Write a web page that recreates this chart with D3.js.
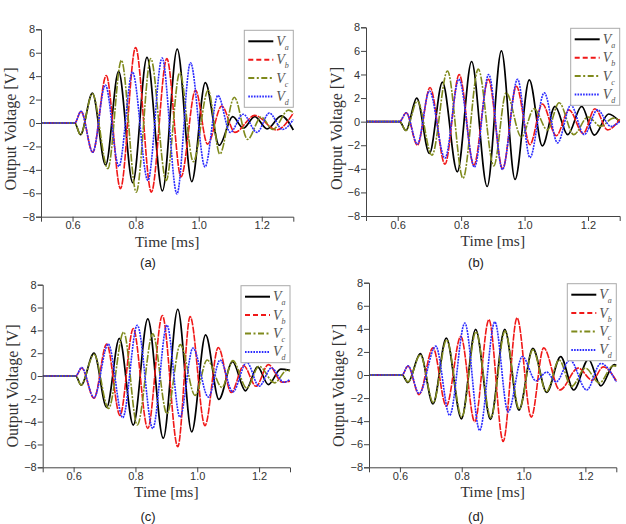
<!DOCTYPE html>
<html><head><meta charset="utf-8">
<script src="https://cdn.jsdelivr.net/npm/d3@7"></script>
<style>body{margin:0;background:#fff}svg{display:block}</style>
</head><body>
<svg id="c" width="626" height="524"></svg>
<script>
// ---------- DATA (time in ms, voltage in V) : extrema ----------
const xTicks = [0.6, 0.8, 1.0, 1.2];
const yTicks = [-8, -6, -4, -2, 0, 2, 4, 6, 8];
const seriesNames = ["a", "b", "c", "d"];
const panelLabels = ["(a)", "(b)", "(c)", "(d)"];

// panel (a)
const aVa = [[0.5,0],[0.607,0],[0.625,-1.0],[0.663,2.55],[0.705,-3.6],[0.746,4.4],[0.791,-5.1],[0.836,5.6],[0.885,-5.8],[0.932,6.3],[0.978,-5.0],[1.021,3.45],[1.065,-1.9],[1.108,0.55],[1.141,-0.45],[1.178,0.55],[1.217,-0.5],[1.262,0.6],[1.3,-0.6]];
const aVb = [[0.5,0],[0.607,0],[0.627,1.0],[0.664,-2.5],[0.707,4.05],[0.752,-5.6],[0.800,6.45],[0.850,-5.9],[0.899,5.5],[0.944,-4.6],[0.990,2.8],[1.028,-1.8],[1.073,1.45],[1.115,-0.8],[1.178,0.65],[1.247,-0.6],[1.3,0.85]];
const aVc = [[0.5,0],[0.607,0],[0.625,-1.0],[0.663,2.5],[0.712,-3.9],[0.755,5.35],[0.802,-5.9],[0.848,5.5],[0.897,-4.9],[0.940,4.3],[0.983,-3.3],[1.030,2.8],[1.067,-2.65],[1.113,2.2],[1.155,-1.4],[1.198,0.5],[1.235,-0.55],[1.285,1.1],[1.3,0.9]];
const aVd = [[0.5,0],[0.607,0],[0.627,1.0],[0.664,-2.5],[0.704,3.25],[0.747,-3.7],[0.790,4.35],[0.839,-4.9],[0.884,5.55],[0.931,-6.05],[0.974,5.15],[1.020,-3.75],[1.061,2.35],[1.100,-0.8],[1.141,0.75],[1.185,-0.8],[1.224,0.85],[1.266,-0.55],[1.3,0.3]];
// panel (b)
const bVa = [[0.5,0],[0.606,0],[0.626,-0.75],[0.660,2.0],[0.700,-2.7],[0.741,3.35],[0.788,-4.25],[0.833,5.1],[0.882,-5.5],[0.927,6.0],[0.970,-4.9],[1.015,3.55],[1.056,-2.05],[1.096,1.3],[1.136,-1.1],[1.180,1.3],[1.220,-1.15],[1.265,0.65],[1.3,0.0]];
const bVb = [[0.5,0],[0.606,0],[0.627,0.75],[0.662,-2.0],[0.702,2.9],[0.749,-3.6],[0.794,4.0],[0.840,-3.7],[0.886,3.6],[0.931,-4.0],[0.974,3.0],[1.017,-1.95],[1.056,1.5],[1.100,-1.2],[1.140,1.0],[1.185,-1.0],[1.222,1.1],[1.262,-0.7],[1.3,0.2]];
const bVc = [[0.5,0],[0.606,0],[0.626,-0.75],[0.662,1.75],[0.708,-2.85],[0.757,4.3],[0.806,-4.8],[0.854,4.45],[0.903,-3.75],[0.942,2.45],[0.990,-1.3],[1.030,1.1],[1.072,-0.7],[1.109,1.6],[1.155,-1.1],[1.200,0.4],[1.240,-0.4],[1.280,0.3],[1.3,0.1]];
const bVd = [[0.5,0],[0.606,0],[0.627,0.75],[0.662,-1.9],[0.700,2.6],[0.749,-3.1],[0.793,3.6],[0.842,-3.85],[0.887,4.0],[0.930,-4.05],[0.978,3.6],[1.017,-3.05],[1.062,2.45],[1.104,-1.8],[1.146,1.4],[1.188,-1.1],[1.230,1.0],[1.272,-0.4],[1.3,0.0]];
// panel (c)
const cVa = [[0.5,0],[0.607,0],[0.624,-0.8],[0.666,2.0],[0.707,-2.75],[0.748,3.3],[0.793,-4.3],[0.840,5.0],[0.890,-5.45],[0.937,5.85],[0.982,-4.9],[1.027,3.6],[1.070,-2.05],[1.114,1.25],[1.156,-1.3],[1.195,0.8],[1.230,-0.75],[1.270,0.6],[1.3,0.5]];
const cVb = [[0.5,0],[0.607,0],[0.626,0.7],[0.666,-1.95],[0.707,2.8],[0.750,-3.45],[0.793,4.15],[0.840,-4.6],[0.887,5.3],[0.937,-6.2],[0.977,5.2],[1.025,-4.35],[1.068,2.5],[1.110,-1.45],[1.150,0.9],[1.190,-0.9],[1.230,1.0],[1.275,-0.55],[1.3,-0.45]];
const cVc = [[0.5,0],[0.607,0],[0.624,-0.8],[0.666,1.9],[0.713,-2.85],[0.762,3.85],[0.806,-4.3],[0.856,3.7],[0.902,-3.3],[0.945,2.75],[0.993,-1.7],[1.032,1.4],[1.080,-1.0],[1.115,1.35],[1.160,-1.05],[1.200,0.85],[1.250,-0.6],[1.290,0.5],[1.3,0.45]];
const cVd = [[0.5,0],[0.607,0],[0.626,0.75],[0.666,-1.9],[0.712,2.8],[0.759,-3.65],[0.806,4.45],[0.856,-4.6],[0.902,4.45],[0.944,-3.6],[0.986,2.45],[1.036,-1.85],[1.074,1.4],[1.115,-1.4],[1.160,1.2],[1.200,-0.9],[1.240,0.7],[1.280,-0.55],[1.3,-0.3]];
// panel (d)
const dVa = [[0.5,0],[0.607,0],[0.626,-0.65],[0.666,1.85],[0.707,-2.5],[0.750,3.2],[0.799,-3.8],[0.845,3.95],[0.893,-3.85],[0.939,3.95],[0.985,-3.05],[1.030,2.3],[1.075,-1.5],[1.120,1.6],[1.162,-1.3],[1.210,1.35],[1.250,-0.95],[1.293,0.9],[1.3,0.85]];
const dVb = [[0.5,0],[0.607,0],[0.626,0.78],[0.662,-1.7],[0.707,2.35],[0.750,-2.7],[0.797,3.35],[0.842,-4.05],[0.888,4.8],[0.934,-5.75],[0.979,4.95],[1.025,-3.65],[1.065,2.35],[1.117,-1.3],[1.177,0.6],[1.222,-0.45],[1.258,0.7],[1.3,-0.5]];
const dVc = [[0.5,0],[0.607,0],[0.626,-0.6],[0.666,1.75],[0.708,-2.4],[0.751,3.05],[0.800,-3.65],[0.846,3.75],[0.894,-3.7],[0.940,3.8],[0.986,-2.95],[1.030,2.2],[1.074,-1.45],[1.115,1.3],[1.155,-1.0],[1.200,0.6],[1.245,-0.7],[1.290,0.8],[1.3,0.75]];
const dVd = [[0.5,0],[0.607,0],[0.626,0.8],[0.662,-1.6],[0.716,2.5],[0.761,-3.5],[0.810,4.5],[0.858,-4.8],[0.907,4.6],[0.950,-3.2],[0.996,1.6],[1.040,-0.5],[1.075,0.25],[1.105,-0.6],[1.150,1.3],[1.204,-1.3],[1.250,1.0],[1.3,-0.6]];

const panelSeries = [[aVa,aVb,aVc,aVd],[bVa,bVb,bVc,bVd],[cVa,cVb,cVc,cVd],[dVa,dVb,dVc,dVd]];

// ---------- STYLE / LAYOUT ----------
const colors = ["#000000", "#f01818", "#7f8a1c", "#2a2aff"];
const dashes = [null, "7,1", "8,1.4,2,1.4", "2,0.9"];
const legendDashes = [null, "5,3", "6,2.5,2,2.5", "1.6,1.2"];
const widths = [1.7, 1.6, 1.6, 1.6];
const boxes = [
  {l:41,   r:293.3, t:29.3,  b:216.7, ty:15.5,  tcy:129,   lab:[148,267]},
  {l:366,  r:619.7, t:27.3,  b:216,   ty:342,   tcy:128.5, lab:[476,267]},
  {l:42.7, r:290,   t:284.7, b:467.3, ty:18,    tcy:386,   lab:[148,521]},
  {l:369,  r:616.3, t:282.7, b:467.3, ty:343.5, tcy:385.5, lab:[476,521]}
];

const svg = d3.select("#c");
svg.append("rect").attr("width",626).attr("height",524).attr("fill","#fff");

boxes.forEach((B, pi) => {
  const x = d3.scaleLinear().domain([0.5, 1.3]).range([B.l, B.r]);
  const y = d3.scaleLinear().domain([-8, 8]).range([B.b, B.t]);
  const g = svg.append("g");
  const clipId = "clip" + pi;
  svg.append("clipPath").attr("id", clipId).append("rect")
    .attr("x", B.l).attr("y", B.t - 2).attr("width", B.r - B.l + 1).attr("height", B.b - B.t + 4);

  const line = d3.line().x(d => x(d[0])).y(d => y(d[1])).curve(d3.curveMonotoneX);
  const cg = g.append("g").attr("clip-path", `url(#${clipId})`);
  panelSeries[pi].forEach((s, si) => {
    cg.append("path").attr("d", line(s)).attr("fill", "none")
      .attr("stroke", colors[si]).attr("stroke-width", widths[si])
      .attr("stroke-dasharray", dashes[si]).attr("stroke-linejoin", "round");
  });

  // axes
  const xMinor = d3.range(5, 14).map(v => v / 10);
  const yMinor = d3.range(-8, 9);
  const xa = g.append("g").attr("transform", `translate(0,${B.b})`);
  xa.call(d3.axisBottom(x).tickValues(xMinor).tickSize(3).tickFormat(""));
  xa.call(d3.axisBottom(x).tickValues(xTicks).tickSize(5).tickFormat(d3.format(".1f")));
  xa.selectAll("text").attr("font-family", "Liberation Sans, Arial, sans-serif").attr("font-size", 11).attr("fill", "#333").attr("y", 5).attr("dy", "0.71em");
  const ya = g.append("g").attr("transform", `translate(${B.l},0)`);
  ya.call(d3.axisLeft(y).tickValues(yMinor).tickSize(3).tickFormat(""));
  ya.call(d3.axisLeft(y).tickValues(yTicks).tickSize(5).tickFormat(d3.format("d")));
  ya.selectAll("text").attr("font-family", "Liberation Sans, Arial, sans-serif").attr("font-size", 11).attr("fill", "#333").attr("x", -6);
  g.selectAll(".domain").attr("stroke", "#444");
  g.selectAll(".tick line").attr("stroke", "#444");

  // axis titles
  g.append("text").attr("x", (B.l + B.r) / 2 + 0).attr("y", B.b + 30)
    .attr("text-anchor", "middle").attr("font-family", "Liberation Serif, Times New Roman, serif")
    .attr("font-size", 15.5).attr("fill", "#333").text("Time [ms]");
  g.append("text").attr("transform", `translate(${B.ty},${B.tcy}) rotate(-90)`)
    .attr("text-anchor", "middle").attr("font-family", "Liberation Serif, Times New Roman, serif")
    .attr("font-size", 16).attr("fill", "#333").text("Output Voltage [V]");

  // legend
  const lw = 49, lh = 77;
  const lx = B.r - lw, ly = B.t + 1;
  const lg = g.append("g");
  lg.append("rect").attr("x", lx).attr("y", ly).attr("width", lw).attr("height", lh)
    .attr("fill", "#fff").attr("stroke", "#aaa").attr("stroke-width", 1);
  seriesNames.forEach((nm, si) => {
    const ry = ly + 11 + si * 18.4;
    lg.append("line").attr("x1", lx + 4).attr("x2", lx + 29).attr("y1", ry).attr("y2", ry)
      .attr("stroke", colors[si]).attr("stroke-width", 2).attr("stroke-dasharray", legendDashes[si]);
    const t = lg.append("text").attr("x", lx + 32).attr("y", ry + 4.5)
      .attr("font-family", "Liberation Serif, Times New Roman, serif").attr("font-style", "italic")
      .attr("font-size", 14).attr("fill", "#555");
    t.append("tspan").text("V");
    t.append("tspan").attr("font-size", 8).attr("dy", 4).text(nm);
  });

  // panel label
  svg.append("text").attr("x", B.lab[0]).attr("y", B.lab[1]).attr("text-anchor", "middle")
    .attr("font-family", "Liberation Sans, Arial, sans-serif").attr("font-size", 13).attr("fill", "#222")
    .text(panelLabels[pi]);
});
</script>
</body></html>
